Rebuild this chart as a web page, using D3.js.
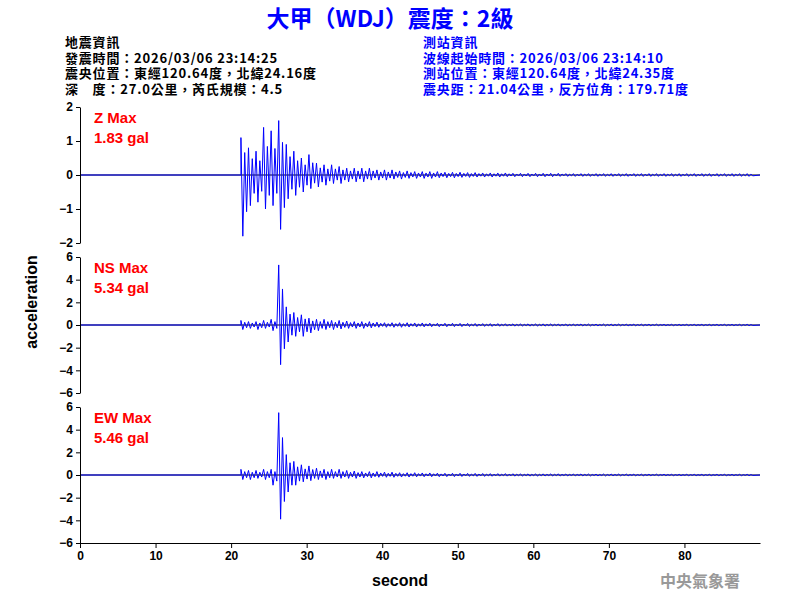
<!DOCTYPE html>
<html><head><meta charset="utf-8">
<script src="https://cdn.jsdelivr.net/npm/d3@7"></script>
<style>
body{margin:0;background:#fff}
text{font-family:"Liberation Sans",Arial,sans-serif}
.cjk{font-family:"Noto Sans CJK TC","Liberation Sans",sans-serif}
</style></head>
<body><svg id="chart" width="800" height="600"></svg>
<script>
// envelope of each trace, read per second from t = 21 s (gal)
const startSec = 21;
const zUpper = [1.1,0.8,0.7,1.4,1.3,1.6,0.9,0.7,0.5,0.6,0.35,0.3,0.3,0.25,0.2,0.2,0.2,0.2,0.15,0.15,0.15,0.12,0.12,0.1,0.1,0.1,0.1,0.08,0.08,0.08,0.07,0.07,0.06,0.06,0.06,0.06,0.05,0.05,0.05,0.05,0.05,0.05,0.05,0.04,0.04,0.04,0.04,0.04,0.04,0.04,0.04,0.04,0.04,0.04,0.04,0.04,0.04,0.04,0.04,0.04,0.04,0.04,0.04,0.04,0.04,0.04,0.04,0.04];
const zLower = [-1.8,-0.9,-0.8,-1.0,-0.9,-1.6,-0.7,-0.6,-0.5,-0.4,-0.35,-0.3,-0.25,-0.25,-0.2,-0.2,-0.2,-0.15,-0.15,-0.15,-0.12,-0.12,-0.1,-0.1,-0.1,-0.1,-0.08,-0.08,-0.08,-0.07,-0.07,-0.06,-0.06,-0.06,-0.06,-0.05,-0.05,-0.05,-0.05,-0.05,-0.05,-0.05,-0.04,-0.04,-0.04,-0.04,-0.04,-0.04,-0.04,-0.04,-0.04,-0.04,-0.04,-0.04,-0.04,-0.04,-0.04,-0.04,-0.04,-0.04,-0.04,-0.04,-0.04,-0.04,-0.04,-0.04,-0.04,-0.04];
const nsUpper = [0.4,0.3,0.3,0.4,0.5,5.3,1.6,1.1,0.9,0.6,0.5,0.5,0.4,0.4,0.35,0.3,0.3,0.3,0.25,0.2,0.2,0.2,0.2,0.18,0.18,0.16,0.15,0.15,0.15,0.14,0.14,0.13,0.12,0.12,0.12,0.11,0.1,0.1,0.1,0.1,0.1,0.1,0.09,0.09,0.09,0.08,0.08,0.08,0.08,0.08,0.08,0.07,0.07,0.07,0.07,0.07,0.06,0.06,0.06,0.06,0.06,0.06,0.06,0.06,0.06,0.06,0.06,0.06];
const nsLower = [-0.4,-0.3,-0.4,-0.3,-0.5,-3.5,-1.5,-1.0,-1.0,-0.7,-0.5,-0.4,-0.4,-0.35,-0.3,-0.3,-0.3,-0.25,-0.2,-0.2,-0.2,-0.2,-0.18,-0.18,-0.16,-0.15,-0.15,-0.15,-0.14,-0.14,-0.13,-0.12,-0.12,-0.12,-0.11,-0.1,-0.1,-0.1,-0.1,-0.1,-0.1,-0.09,-0.09,-0.09,-0.08,-0.08,-0.08,-0.08,-0.08,-0.08,-0.07,-0.07,-0.07,-0.07,-0.07,-0.06,-0.06,-0.06,-0.06,-0.06,-0.06,-0.06,-0.06,-0.06,-0.06,-0.06,-0.06,-0.06];
const ewUpper = [0.5,0.4,0.4,0.5,0.5,5.5,1.8,1.2,0.9,0.8,0.6,0.5,0.5,0.5,0.4,0.35,0.3,0.3,0.3,0.25,0.25,0.2,0.2,0.2,0.18,0.18,0.16,0.15,0.15,0.15,0.14,0.14,0.13,0.12,0.12,0.12,0.11,0.1,0.1,0.1,0.1,0.1,0.1,0.09,0.09,0.09,0.08,0.08,0.08,0.08,0.08,0.08,0.07,0.07,0.07,0.07,0.07,0.06,0.06,0.06,0.06,0.06,0.06,0.06,0.06,0.06,0.06,0.06];
const ewLower = [-0.4,-0.4,-0.3,-0.4,-0.9,-3.9,-1.5,-0.9,-0.6,-0.5,-0.4,-0.4,-0.3,-0.3,-0.3,-0.3,-0.25,-0.25,-0.2,-0.2,-0.2,-0.18,-0.18,-0.16,-0.15,-0.15,-0.15,-0.14,-0.14,-0.13,-0.12,-0.12,-0.12,-0.11,-0.1,-0.1,-0.1,-0.1,-0.1,-0.1,-0.09,-0.09,-0.09,-0.08,-0.08,-0.08,-0.08,-0.08,-0.08,-0.07,-0.07,-0.07,-0.07,-0.07,-0.06,-0.06,-0.06,-0.06,-0.06,-0.06,-0.06,-0.06,-0.06,-0.06,-0.06,-0.06,-0.06,-0.06];

const panelNames = ['Z Max','NS Max','EW Max'];
const panelPeaks = ['1.83 gal','5.34 gal','5.46 gal'];
const panelRanges = [[-2,2],[-6,6],[-6,6]];
const panelTicks = [[-2,-1,0,1,2],[-6,-4,-2,0,2,4,6],[-6,-4,-2,0,2,4,6]];
const xTicks = [0,10,20,30,40,50,60,70,80];

const title = '大甲（WDJ）震度：2級';
const quakeInfo = ['地震資訊','發震時間：2026/03/06 23:14:25','震央位置：東經120.64度，北緯24.16度','深　度：27.0公里，芮氏規模：4.5'];
const stationInfo = ['測站資訊','波線起始時間：2026/03/06 23:14:10','測站位置：東經120.64度，北緯24.35度','震央距：21.04公里，反方位角：179.71度'];

const svg = d3.select('#chart');
const x = d3.scaleLinear().domain([0,90]).range([80,760]);
const panelTop = [107,257,407], panelH = 136;

svg.append('text').attr('x',390).attr('y',27).attr('text-anchor','middle')
  .attr('class','cjk').attr('fill','#0000ff').attr('font-size',23).attr('font-weight','bold').text(title);
quakeInfo.forEach((t,i) => svg.append('text').attr('class','cjk').attr('x',65).attr('y',47+i*15.7)
  .attr('font-size',13).attr('letter-spacing',0.8).attr('font-weight','bold').attr('fill','#000').text(t));
stationInfo.forEach((t,i) => svg.append('text').attr('class','cjk').attr('x',423).attr('y',47+i*15.7)
  .attr('font-size',13).attr('letter-spacing',0.8).attr('font-weight','bold').attr('fill','#0000ff').text(t));

const traces = [[zUpper,zLower],[nsUpper,nsLower],[ewUpper,ewLower]];
traces.forEach((tr,p) => {
  const y = d3.scaleLinear().domain(panelRanges[p]).range([panelTop[p]+panelH, panelTop[p]]);
  const g = svg.append('g');
  // zigzag through each second's high and low
  const pts = [{t:0, v:0},{t:startSec+0.3, v:0}];
  tr[0].forEach((u,i) => {
    pts.push({t:startSec+i+0.3, v:u});
    pts.push({t:startSec+i+0.55, v:tr[1][i]});
    pts.push({t:startSec+i+0.8, v:u*0.6});
    pts.push({t:startSec+i+1.05, v:tr[1][i]*0.6});
  });
  pts.push({t:90, v:0});
  g.append('line').attr('x1',x(0)).attr('x2',760).attr('y1',y(0)).attr('y2',y(0)).attr('stroke','#000');
  g.append('path').datum(pts)
    .attr('d', d3.line().x(d => x(d.t)).y(d => y(d.v)))
    .attr('fill','none').attr('stroke','#0000ff').attr('stroke-width',1);
  g.append('g').attr('transform',`translate(80,0)`)
    .call(d3.axisLeft(y).tickValues(panelTicks[p]).tickFormat(d3.format('d')).tickSize(4).tickSizeOuter(0))
    .call(a => a.selectAll('text').attr('font-size',12).attr('font-weight','bold').attr('font-family','Liberation Sans'))
    .call(a => a.selectAll('path,line').attr('stroke','#000'));
  g.append('text').attr('x',94).attr('y',panelTop[p]+16).attr('fill','#ff0000')
    .attr('font-size',15).attr('font-weight','bold').text(panelNames[p]);
  g.append('text').attr('x',94).attr('y',panelTop[p]+36).attr('fill','#ff0000')
    .attr('font-size',15).attr('font-weight','bold').text(panelPeaks[p]);
});

svg.append('g').attr('transform','translate(0,543)')
  .call(d3.axisBottom(x).tickValues(xTicks).tickFormat(d3.format('d')).tickSize(5).tickSizeOuter(0))
  .call(a => a.selectAll('text').attr('font-size',12).attr('font-weight','bold').attr('font-family','Liberation Sans'))
  .call(a => a.selectAll('path,line').attr('stroke','#000'));

svg.append('text').attr('x',400).attr('y',586).attr('text-anchor','middle').attr('font-size',16).attr('font-weight','bold').text('second');
svg.append('text').attr('transform','translate(37,302) rotate(-90)').attr('text-anchor','middle')
  .attr('font-size',16).attr('font-weight','bold').text('acceleration');
svg.append('text').attr('class','cjk').attr('x',700).attr('y',587).attr('text-anchor','middle')
  .attr('font-size',16).attr('font-weight','bold').attr('fill','#999').text('中央氣象署');
</script></body></html>
